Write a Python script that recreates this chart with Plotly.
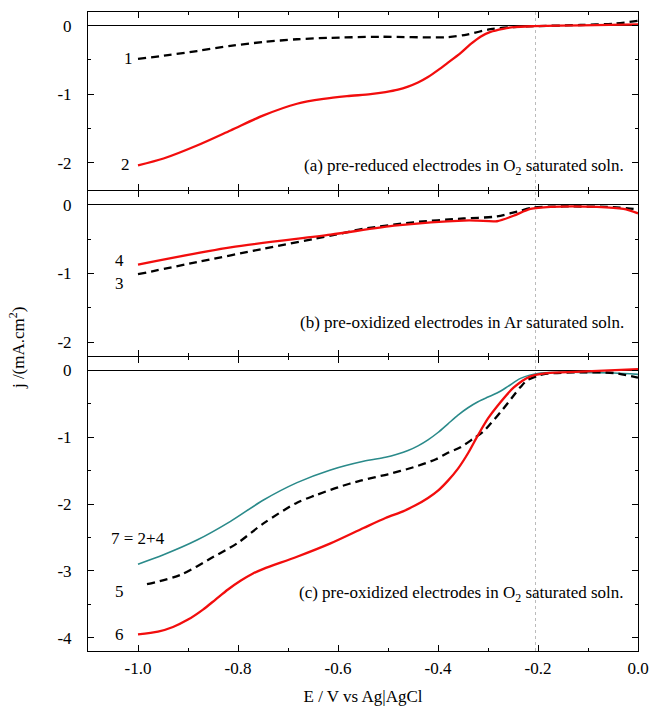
import plotly.graph_objects as go

# ---------------- data ----------------
# panel (a)
x1 = [-1.0, -0.94, -0.882, -0.815, -0.749, -0.682, -0.615, -0.515, -0.382, -0.342, -0.295, -0.248, -0.208, -0.115, -0.048, 0.0]
y1 = [-0.485, -0.43, -0.37, -0.295, -0.238, -0.198, -0.177, -0.162, -0.168, -0.13, -0.05, -0.02, -0.007, 0.01, 0.03, 0.07]
x2 = [-1.0, -0.949, -0.882, -0.815, -0.749, -0.682, -0.629, -0.582, -0.535, -0.505, -0.48, -0.46, -0.44, -0.42, -0.40, -0.38, -0.355, -0.335, -0.315, -0.295, -0.27, -0.248, -0.208, -0.115, 0.0]
y2 = [-2.04, -1.94, -1.75, -1.53, -1.31, -1.14, -1.07, -1.03, -1.0, -0.97, -0.935, -0.89, -0.83, -0.75, -0.65, -0.54, -0.40, -0.27, -0.16, -0.09, -0.045, -0.02, -0.007, 0.005, 0.02]
# panel (b)
x3 = [-1.0, -0.882, -0.749, -0.615, -0.549, -0.449, -0.349, -0.282, -0.242, -0.209, -0.149, -0.049, -0.009, 0.0]
y3 = [-1.01, -0.835, -0.64, -0.45, -0.35, -0.255, -0.2, -0.17, -0.1, -0.04, -0.025, -0.035, -0.06, -0.07]
x4 = [-1.0, -0.815, -0.615, -0.482, -0.349, -0.322, -0.282, -0.249, -0.215, -0.175, -0.082, -0.029, 0.0]
y4 = [-0.87, -0.62, -0.435, -0.30, -0.23, -0.23, -0.24, -0.16, -0.06, -0.03, -0.03, -0.06, -0.125]
# panel (c)
x5 = [-0.982, -0.915, -0.849, -0.802, -0.749, -0.682, -0.645, -0.6, -0.555, -0.5, -0.449, -0.404, -0.382, -0.355, -0.329, -0.31, -0.295, -0.27, -0.249, -0.235, -0.222, -0.2, -0.182, -0.115, -0.048, 0.0]
y5 = [-3.20, -3.06, -2.79, -2.59, -2.29, -1.98, -1.87, -1.75, -1.65, -1.555, -1.45, -1.33, -1.24, -1.15, -1.02, -0.92, -0.80, -0.58, -0.38, -0.25, -0.15, -0.08, -0.05, -0.03, -0.04, -0.11]
x6 = [-1.0, -0.96, -0.93, -0.90, -0.87, -0.845, -0.82, -0.795, -0.77, -0.749, -0.682, -0.615, -0.549, -0.505, -0.47, -0.445, -0.42, -0.40, -0.38, -0.36, -0.34, -0.32, -0.30, -0.282, -0.249, -0.215, -0.182, -0.115, 0.0]
y6 = [-3.95, -3.91, -3.84, -3.73, -3.58, -3.43, -3.28, -3.15, -3.04, -2.97, -2.79, -2.59, -2.36, -2.21, -2.11, -2.02, -1.91, -1.80, -1.65, -1.47, -1.24, -0.97, -0.72, -0.54, -0.26, -0.09, -0.04, -0.02, 0.02]
x7 = [-1.0, -0.949, -0.882, -0.815, -0.749, -0.682, -0.615, -0.549, -0.505, -0.482, -0.46, -0.44, -0.42, -0.40, -0.38, -0.36, -0.34, -0.32, -0.30, -0.282, -0.26, -0.235, -0.195, -0.115, -0.048, 0.0]
y7 = [-2.90, -2.76, -2.54, -2.26, -1.94, -1.68, -1.49, -1.36, -1.30, -1.255, -1.20, -1.13, -1.04, -0.93, -0.80, -0.67, -0.56, -0.47, -0.40, -0.34, -0.24, -0.12, -0.04, -0.03, -0.04, -0.06]

x_ticks = [-1.0, -0.8, -0.6, -0.4, -0.2, 0.0]
x_ticktext = ["-1.0", "-0.8", "-0.6", "-0.4", "-0.2", "0.0"]
y_ticks_ab = [0, -1, -2]
y_ticktext_ab = ["0", "-1", "-2"]
y_ticks_c = [0, -1, -2, -3, -4]
y_ticktext_c = ["0", "-1", "-2", "-3", "-4"]

panel_texts = ["(a) pre-reduced electrodes in O<sub>2</sub> saturated soln.",
               "(b) pre-oxidized electrodes in Ar saturated soln.",
               "(c) pre-oxidized electrodes in O<sub>2</sub> saturated soln."]
curve_labels = ["1", "2", "4", "3", "7 = 2+4", "5", "6"]

RED = "#f20d0d"
TEAL = "#2a8a8a"
FONT = "Liberation Serif, Tinos, Times New Roman, DejaVu Serif, serif"
FS = 17

fig = go.Figure()

def add(x, y, axis, color, width, dash):
    fig.add_trace(go.Scatter(x=x, y=y, mode="lines", xaxis="x" + axis, yaxis="y" + axis,
                             line=dict(color=color, width=width, dash=dash, shape="spline", smoothing=0.8),
                             showlegend=False, hoverinfo="skip"))

add(x1, y1, "", "black", 2.3, "8px,5px")
add(x2, y2, "", RED, 2.3, "solid")
add(x3, y3, "2", "black", 2.3, "8px,5px")
add(x4, y4, "2", RED, 2.3, "solid")
add(x7, y7, "3", TEAL, 1.6, "solid")
add(x5, y5, "3", "black", 2.3, "8px,5px")
add(x6, y6, "3", RED, 2.3, "solid")

xcommon = dict(range=[-1.1, 0.0], tickvals=x_ticks, ticktext=x_ticktext, ticks="inside", ticklen=6,
               tickwidth=1, tickcolor="black", showline=True, linecolor="black", linewidth=1,
               mirror="ticks", showgrid=False, zeroline=False, automargin=False, ticklabelstandoff=2,
               minor=dict(ticks="inside", ticklen=3, tickwidth=1, tickcolor="black", dtick=0.1, tick0=0, showgrid=False),
               tickfont=dict(family=FONT, size=FS, color="black"))
ycommon = dict(ticks="inside", ticklen=6, tickwidth=1, tickcolor="black", showline=True, linecolor="black",
               linewidth=1, mirror="ticks", showgrid=False, zeroline=True, zerolinecolor="black",
               zerolinewidth=1, automargin=False, ticklabelstandoff=12,
               minor=dict(ticks="inside", ticklen=3, tickwidth=1, tickcolor="black",
                          dtick=0.5, tick0=0, showgrid=False),
               tickfont=dict(family=FONT, size=FS, color="black"))

PH = 639.0
d3 = 294 / PH
d2 = 460 / PH
px = 1 / PH  # one pixel overlap so that the borders of adjacent panels coincide

fig.update_layout(
    width=649, height=706,
    margin=dict(l=87.5, r=11, t=12, b=55),
    paper_bgcolor="white", plot_bgcolor="white",
    font=dict(family=FONT, size=FS, color="black"),
    xaxis=dict(xcommon, domain=[0, 1], anchor="y", showticklabels=False),
    yaxis=dict(ycommon, domain=[d2 + px, 1], range=[-2.4, 0.2], tickvals=y_ticks_ab, ticktext=y_ticktext_ab, anchor="x"),
    xaxis2=dict(xcommon, domain=[0, 1], anchor="y2", showticklabels=False, matches="x"),
    yaxis2=dict(ycommon, domain=[d3 + px, d2], range=[-2.2, 0.2], tickvals=y_ticks_ab, ticktext=y_ticktext_ab, anchor="x2"),
    xaxis3=dict(xcommon, domain=[0, 1], anchor="y3", matches="x",
                title=dict(text="E / V vs Ag|AgCl", font=dict(family=FONT, size=FS, color="black"), standoff=20)),
    yaxis3=dict(ycommon, domain=[0, d3], range=[-4.2, 0.2], tickvals=y_ticks_c, ticktext=y_ticktext_c, anchor="x3"),
)

# dotted reference line across all panels
fig.add_shape(type="line", xref="x3", yref="paper", x0=-0.205, x1=-0.205, y0=0, y1=1,
              line=dict(color="#bbbbbb", width=1, dash="dot"), layer="below")

# y axis title
fig.add_annotation(text="j /(mA.cm<sup>2</sup>)", xref="paper", yref="paper", x=-0.128, y=0.475,
                   textangle=-90, showarrow=False, font=dict(family=FONT, size=FS, color="black"),
                   xanchor="center", yanchor="middle")

# panel texts
for txt, ax, yv in zip(panel_texts, ["", "2", "3"], [-2.06, -1.71, -3.34]):
    fig.add_annotation(text=txt, xref="x" + ax, yref="y" + ax, x=-0.025, y=yv, showarrow=False,
                       xanchor="right", yanchor="middle", font=dict(family=FONT, size=FS, color="black"))

# curve labels
lab_pos = [("", -1.006, -0.48, "right"), ("", -1.012, -2.03, "right"), ("2", -1.025, -0.81, "right"),
           ("2", -1.025, -1.145, "right"), ("3", -1.0, -2.51, "center"), ("3", -1.025, -3.31, "right"),
           ("3", -1.025, -3.96, "right")]
for txt, (ax, xv, yv, anc) in zip(curve_labels, lab_pos):
    fig.add_annotation(text=txt, xref="x" + ax, yref="y" + ax, x=xv, y=yv, showarrow=False,
                       xanchor=anc, yanchor="middle", font=dict(family=FONT, size=FS, color="black"))

fig.write_html("out.html", config={"displayModeBar": False},
               post_script="document.body.style.margin='0';document.body.style.overflow='hidden';")
